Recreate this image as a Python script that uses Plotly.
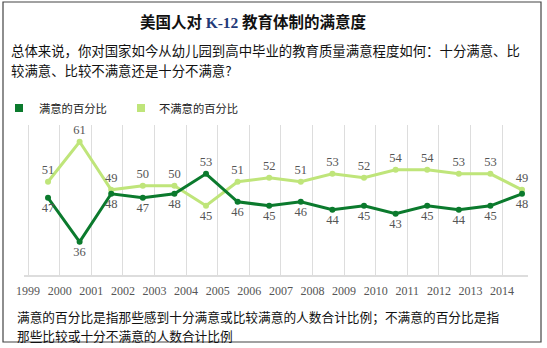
import plotly.graph_objects as go

years = list(range(1999, 2015))
satisfied = [47, 36, 48, 47, 48, 53, 46, 45, 46, 44, 45, 43, 45, 44, 45, 48]
dissatisfied = [51, 61, 49, 50, 50, 45, 51, 52, 51, 53, 52, 54, 54, 53, 53, 49]
year_labels = [str(y) for y in years]

title_a = "美国人对 "
title_k = "K-12"
title_b = " 教育体制的满意度"
subtitle_1 = "总体来说，你对国家如今从幼儿园到高中毕业的教育质量满意程度如何：十分满意、比"
subtitle_2 = "较满意、比较不满意还是十分不满意?"
legend_names = ["满意的百分比", "不满意的百分比"]
note_1 = "满意的百分比是指那些感到十分满意或比较满意的人数合计比例；不满意的百分比是指"
note_2 = "那些比较或十分不满意的人数合计比例"

DARK = "#0B7A2D"
LIGHT = "#BFE57A"
W, H = 547, 348
L, R, T, B = 24, 528, 125, 275
OFFSET = 0.63  # points sit between year gridlines

def px(x):
    return (x - L) / (R - L)

def py(y):
    return (B - y) / (B - T)

def positions(a, b):
    return ["top center" if v >= w else "bottom center" for v, w in zip(a, b)]

xs = [y + OFFSET for y in years]
CJK = "Noto Sans CJK SC"
SERIF = "Liberation Serif"

fig = go.Figure()
fig.add_trace(go.Scatter(
    x=xs, y=dissatisfied, mode="lines+markers+text", name=legend_names[1],
    line=dict(color=LIGHT, width=3), marker=dict(color=LIGHT, size=6),
    text=[str(v) for v in dissatisfied], textposition=positions(dissatisfied, satisfied),
    textfont=dict(family=SERIF, size=12.5, color="#555"), cliponaxis=False,
))
fig.add_trace(go.Scatter(
    x=xs, y=satisfied, mode="lines+markers+text", name=legend_names[0],
    line=dict(color=DARK, width=3), marker=dict(color=DARK, size=6),
    text=[str(v) for v in satisfied], textposition=positions(satisfied, dissatisfied),
    textfont=dict(family=SERIF, size=12.5, color="#555"), cliponaxis=False,
))

annotations = [
    dict(x=px(10), y=py(50), text=subtitle_1),
    dict(x=px(10), y=py(70), text=subtitle_2),
    dict(x=px(16), y=py(316.2), text=note_1),
    dict(x=px(16), y=py(335.0), text=note_2),
]
for a in annotations:
    a.update(xref="paper", yref="paper", xanchor="left", yanchor="middle", align="left",
             showarrow=False, borderpad=0, font=dict(family=CJK, size=13.4, color="#111"))
annotations[2]["font"]["size"] = 12.7
annotations[3]["font"]["size"] = 12.7

for name, tx in zip(legend_names, [37, 157]):
    annotations.append(dict(x=px(tx), y=py(108), text=name, xref="paper", yref="paper",
                            xanchor="left", yanchor="middle", showarrow=False,
                            font=dict(family=CJK, size=11.3, color="#222")))

shapes = []
for color, sx in zip([DARK, LIGHT], [15, 137]):
    shapes.append(dict(type="rect", xref="paper", yref="paper",
                       x0=px(sx), x1=px(sx + 8), y0=py(112), y1=py(104),
                       fillcolor=color, line=dict(width=0)))
shapes.append(dict(type="rect", xref="paper", yref="paper",
                   x0=px(3), x1=px(541), y0=py(342), y1=py(2),
                   line=dict(color="#444", width=1.2), fillcolor="rgba(0,0,0,0)", layer="below"))

fig.update_layout(
    width=W, height=H,
    margin=dict(l=L, r=W - R, t=T, b=H - B),
    paper_bgcolor="white", plot_bgcolor="white",
    showlegend=False,
    title=dict(
        text=f"<b>{title_a}<span style='color:#1F3A78;font-family:Liberation Serif'>{title_k}</span>{title_b}</b>",
        x=253 / W, y=1 - 23 / H, xref="container", yref="container",
        xanchor="center", yanchor="middle",
        font=dict(family=CJK, size=15.5, color="#111"),
    ),
    xaxis=dict(
        range=[1998.87, 2014.82], tickmode="array", tickvals=years, ticktext=year_labels,
        showgrid=True, gridcolor="#DDDDDD", gridwidth=1, zeroline=False,
        showline=True, linecolor="#DDDDDD", linewidth=2, ticks="",
        tickfont=dict(family=SERIF, size=12, color="#555"), ticklabelstandoff=4,
    ),
    yaxis=dict(range=[27.7, 65.2], visible=False, showgrid=False, zeroline=False),
    annotations=annotations,
    shapes=shapes,
)

fig.write_html("out.html")
